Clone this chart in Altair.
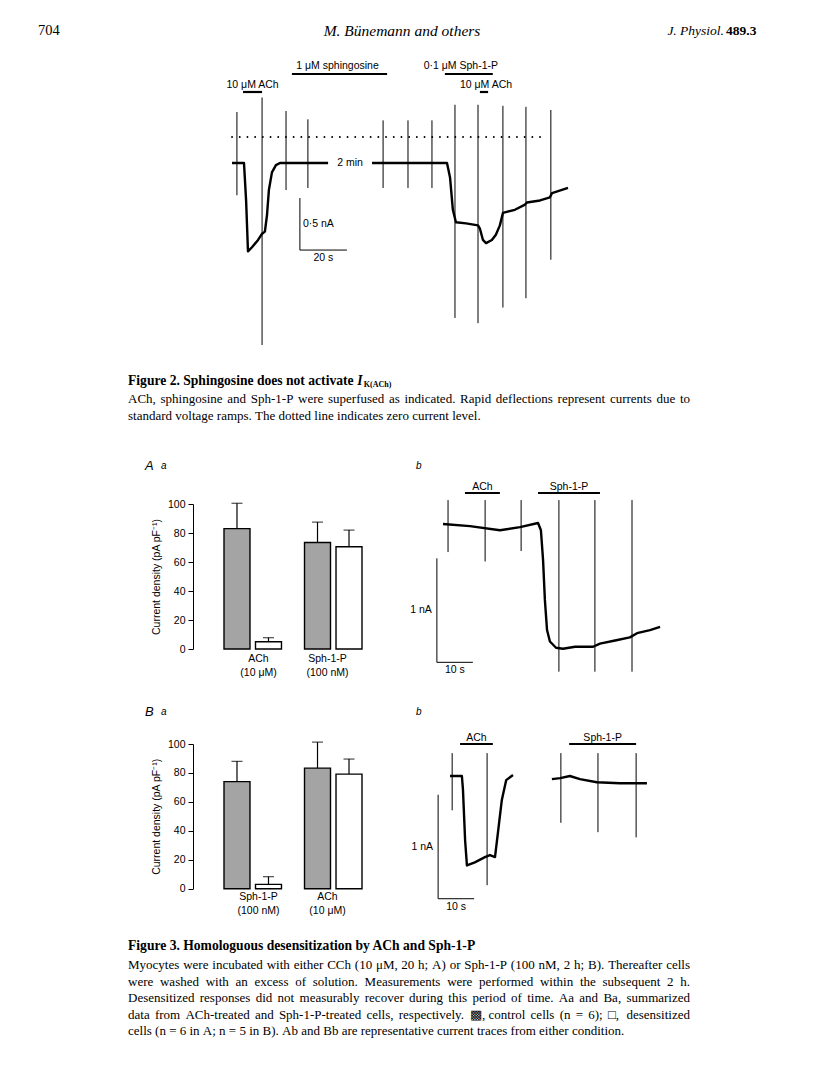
import altair as alt
import pandas as pd

# ---------------- data ----------------
# Figure 2: whole-cell current trace (time s, current nA); two segments separated by a 2 min break
f2_left_t = [0, 5.1, 6.0, 6.8, 8.5, 11.1, 12.8, 14.0, 14.9, 15.7, 17.0, 18.7, 20.4, 40.9]
f2_left_i = [-0.25, -0.25, -0.61, -1.10, -1.06, -0.99, -0.93, -0.91, -0.75, -0.51, -0.34, -0.27, -0.25, -0.25]
f2_right_t = [59.6, 91.5, 92.8, 94.0, 95.3, 99.6, 104.7, 105.5, 106.8, 108.1, 110.6, 112.3, 114.0, 115.3,
              120.4, 124.7, 125.5, 131.1, 135.3, 136.2, 143.0]
f2_right_i = [-0.25, -0.25, -0.39, -0.70, -0.82, -0.83, -0.85, -0.88, -0.99, -1.02, -0.99, -0.94, -0.85, -0.73,
              -0.70, -0.65, -0.63, -0.61, -0.58, -0.54, -0.49]
f2_ramp_t = [2.1, 12.8, 23.0, 32.3, 64.3, 74.9, 85.1, 94.9, 104.7, 115.3, 125.1, 135.7]
f2_ramp_top = [0.24, 0.38, 0.25, 0.17, 0.16, 0.16, 0.16, 0.31, 0.31, 0.30, 0.29, 0.26]
f2_ramp_bot = [-0.56, -2.0, -0.51, -0.49, -0.49, -0.49, -0.49, -1.74, -1.79, -1.64, -1.55, -1.18]
f2_zero_span = [0, 133]
f2_drug_name = ["10 μM ACh", "1 μM sphingosine", "0·1 μM Sph-1-P", "10 μM ACh"]
f2_drug_on = [4.7, 25.5, 90.6, 105.5]
f2_drug_off = [12.8, 66.0, 111.0, 109.0]
f2_sb_t = [28.9, 48.9]      # 20 s
f2_sb_i = [-1.087, -0.587]  # 0.5 nA

# Figure 3 Aa / Ba: current density (pA/pF), mean and s.e.m.
bar_panel = ["A", "A", "A", "A", "B", "B", "B", "B"]
bar_group = ["ACh", "ACh", "Sph-1-P", "Sph-1-P", "Sph-1-P", "Sph-1-P", "ACh", "ACh"]
bar_cond = ["control", "desensitized"] * 4
bar_mean = [83.0, 5.0, 73.5, 70.5, 74.0, 3.0, 83.3, 79.2]
bar_sem = [17.5, 2.8, 14.0, 11.5, 14.0, 5.3, 18.0, 10.4]
grp_name = ["ACh", "Sph-1-P"]
grp_conc = ["(10 μM)", "(100 nM)"]

# Figure 3 Ab trace
ab_t = [0, 7.5, 15.8, 21.4, 26.4, 27.2, 27.8, 28.3, 28.9, 29.7, 31.4, 33.3, 36.7, 41.7, 43.6, 47.8, 51.9,
        53.9, 57.5, 60.3]
ab_i = [0, -0.02, -0.06, -0.03, 0.01, -0.06, -0.35, -0.73, -1.02, -1.13, -1.19, -1.20, -1.18, -1.18, -1.15,
        -1.12, -1.09, -1.05, -1.02, -0.99]
ab_ramp_t = [1.4, 11.7, 21.7, 32.2, 42.2, 52.5]
ab_ramp_top = [0.23, 0.23, 0.23, 0.23, 0.23, 0.23]
ab_ramp_bot = [-0.27, -0.36, -0.26, -1.42, -1.42, -1.42]
ab_drug_name = ["ACh", "Sph-1-P"]
ab_drug_on = [6.1, 26.4]
ab_drug_off = [15.8, 43.6]
ab_sb_t = [-1.7, 8.3]
ab_sb_i = [-1.33, -0.33]

# Figure 3 Bb trace (two segments)
bb_left_t = [0, 3.3, 3.6, 4.2, 4.7, 6.9, 9.7, 11.1, 12.5, 13.3, 14.4, 15.6, 17.5]
bb_left_i = [0, 0, -0.13, -0.62, -0.86, -0.83, -0.78, -0.76, -0.78, -0.55, -0.23, -0.04, 0.01]
bb_right_t = [28.3, 30.6, 33.3, 36.1, 40.8, 47.2, 54.7]
bb_right_i = [-0.03, -0.02, 0.0, -0.03, -0.06, -0.07, -0.07]
bb_ramp_t = [0.6, 10.3, 30.8, 41.1, 51.7]
bb_ramp_top = [0.22, 0.22, 0.22, 0.22, 0.22]
bb_ramp_bot = [-0.33, -1.05, -0.45, -0.54, -0.59]
bb_drug_name = ["ACh", "Sph-1-P"]
bb_drug_on = [2.8, 33.1]
bb_drug_off = [11.9, 51.7]
bb_sb_t = [-3.3, 6.7]
bb_sb_i = [-1.18, -0.18]

# Page text
header = ["704", "M. Bünemann and others", "J. Physiol.", "489.3"]
fig2_title = "Figure 2. Sphingosine does not activate "
fig2_lines = [
    "ACh, sphingosine and Sph-1-P were superfused as indicated. Rapid deflections represent currents due to",
    "standard voltage ramps. The dotted line indicates zero current level.",
]
fig3_title = "Figure 3. Homologuous desensitization by ACh and Sph-1-P"
fig3_lines = [
    "Myocytes were incubated with either CCh (10 μM, 20 h; A) or Sph-1-P (100 nM, 2 h; B). Thereafter cells",
    "were washed with an excess of solution. Measurements were performed within the subsequent 2 h.",
    "Desensitized responses did not measurably recover during this period of time. Aa and Ba, summarized",
    "data from ACh-treated and Sph-1-P-treated cells, respectively. ▩, control cells (n = 6); □, desensitized",
    "cells (n = 6 in A; n = 5 in B). Ab and Bb are representative current traces from either condition.",
]

# ---------------- helpers ----------------
OFF = 8
SANS = "Liberation Sans"
SERIF = "Liberation Serif"
CAP = 13.0      # caption body font size
TITLE = 13.6    # caption title font size
LEFT, RIGHT = 128, 690

# Times / Liberation Serif advance widths (1/1000 em)
_W = {" ": 250, "!": 333, "(": 333, ")": 333, ",": 250, "-": 333, ".": 250, "/": 278, ":": 278, ";": 278,
      "=": 564, "μ": 500, "▩": 770, "□": 770, "·": 250}
for ch in "0123456789":
    _W[ch] = 500
for ch, w in zip("ABCDEFGHIJKLMNOPQRSTUVWXYZ",
                 [722, 667, 667, 722, 611, 556, 722, 722, 333, 389, 722, 611, 889, 722, 722, 556, 722, 667, 556,
                  611, 722, 722, 944, 722, 722, 611]):
    _W[ch] = w
for ch, w in zip("abcdefghijklmnopqrstuvwxyz",
                 [444, 500, 444, 500, 444, 333, 500, 500, 278, 278, 500, 278, 778, 500, 500, 500, 500, 333, 389,
                  278, 500, 500, 722, 500, 500, 444]):
    _W[ch] = w
_WB = dict(_W)
for ch, w in zip("abcdefghijklmnopqrstuvwxyz",
                 [500, 556, 444, 556, 444, 333, 500, 556, 278, 333, 556, 278, 833, 556, 500, 556, 556, 444, 389,
                  333, 556, 500, 722, 500, 500, 444]):
    _WB[ch] = w
for ch, w in zip("ABCDEFGHIJKLMNOPQRSTUVWXYZ",
                 [722, 667, 722, 722, 667, 611, 778, 778, 389, 500, 778, 667, 944, 722, 778, 611, 778, 722, 556,
                  667, 722, 722, 1000, 722, 722, 667]):
    _WB[ch] = w


def text_width(s, size, bold=False):
    tab = _WB if bold else _W
    return sum(tab.get(c, 500) for c in s) * size / 1000.0


def px(v):
    return v - OFF


def lin(domain, lo, hi):
    return alt.Scale(domain=domain, range=[px(lo), px(hi)], nice=False, zero=False)


def label(text, x, y, size=10.0, font=SANS, align="left", weight="normal", style="normal"):
    return alt.Chart(pd.DataFrame({"s": [text]})).mark_text(
        align=align, baseline="middle", font=font, fontSize=size, fontWeight=weight,
        fontStyle=style, color="black"
    ).encode(x=alt.value(px(x)), y=alt.value(px(y)), text="s:N")


def paragraph(lines, left, right, y0, dy, size):
    rows = []
    for k, line in enumerate(lines):
        words = line.split(" ")
        widths = [text_width(w, size) for w in words]
        last = k == len(lines) - 1
        if not last and len(words) > 1:
            space = (right - left - sum(widths)) / (len(words) - 1)
        else:
            space = text_width(" ", size)
        x = left
        for w, ww in zip(words, widths):
            rows.append({"w": w, "x": px(x), "y": px(y0 + dy * k)})
            x += ww + space
    return alt.Chart(pd.DataFrame(rows)).mark_text(
        align="left", baseline="middle", font=SERIF, fontSize=size, color="black").encode(
        x=alt.X("x:Q", scale=None), y=alt.Y("y:Q", scale=None), text="w:N")


def trace_layers(segs, ramps, drugs, sb, xs, ys, drug_lab_y, drug_bar_y, drug_dx, sb_labels, lw=2.0):
    out = []
    seg_rows = []
    for k, (tt, ii) in enumerate(segs):
        for a, b in zip(tt, ii):
            seg_rows.append({"t": a, "i": b, "seg": k})
    out.append(alt.Chart(pd.DataFrame(seg_rows)).mark_line(color="black", strokeWidth=lw, strokeJoin="round").encode(
        x=alt.X("t:Q", scale=xs, axis=None), y=alt.Y("i:Q", scale=ys, axis=None), detail="seg:N"))
    rt, rtop, rbot = ramps
    out.append(alt.Chart(pd.DataFrame({"t": rt, "top": rtop, "bot": rbot})).mark_rule(
        color="black", strokeWidth=1.0).encode(
        x=alt.X("t:Q", scale=xs, axis=None), y=alt.Y("top:Q", scale=ys, axis=None), y2="bot:Q"))
    names, on, off = drugs
    for k in range(len(names)):
        d = pd.DataFrame({"name": [names[k]], "on": [on[k]], "off": [off[k]]})
        out.append(alt.Chart(d).mark_rule(color="black", strokeWidth=2.2).encode(
            x=alt.X("on:Q", scale=xs, axis=None), x2="off:Q", y=alt.value(px(drug_bar_y[k]))))
        out.append(alt.Chart(d).transform_calculate(mid="(datum.on + datum.off) / 2").mark_text(
            font=SANS, fontSize=10.5, color="black", baseline="middle", dx=drug_dx[k]).encode(
            x=alt.X("mid:Q", scale=xs, axis=None), y=alt.value(px(drug_lab_y[k])), text="name:N"))
    st, si = sb
    sbd = pd.DataFrame({"t0": [st[0]], "t1": [st[1]], "i0": [si[0]], "i1": [si[1]]})
    out.append(alt.Chart(sbd).mark_rule(color="black", strokeWidth=1.0).encode(
        x=alt.X("t0:Q", scale=xs, axis=None), y=alt.Y("i0:Q", scale=ys, axis=None), y2="i1:Q"))
    out.append(alt.Chart(sbd).mark_rule(color="black", strokeWidth=1.0).encode(
        x=alt.X("t0:Q", scale=xs, axis=None), x2="t1:Q", y=alt.Y("i0:Q", scale=ys, axis=None)))
    (vtxt, vdx, vdy, valign), (htxt, hdy) = sb_labels
    out.append(alt.Chart(sbd).transform_calculate(im="(datum.i0 + datum.i1) / 2").mark_text(
        font=SANS, fontSize=10.5, color="black", align=valign, baseline="middle", dx=vdx, dy=vdy).encode(
        x=alt.X("t0:Q", scale=xs, axis=None), y=alt.Y("im:Q", scale=ys, axis=None), text=alt.value(vtxt)))
    out.append(alt.Chart(sbd).transform_calculate(tm="(datum.t0 + datum.t1) / 2").mark_text(
        font=SANS, fontSize=10.5, color="black", align="center", baseline="middle", dy=hdy).encode(
        x=alt.X("tm:Q", scale=xs, axis=None), y=alt.Y("i0:Q", scale=ys, axis=None), text=alt.value(htxt)))
    return out


bars_df = pd.DataFrame({"panel": bar_panel, "group": bar_group, "cond": bar_cond,
                        "mean": bar_mean, "sem": bar_sem})
bars_df["upper"] = bars_df["mean"] + bars_df["sem"]


def bar_layers(panel, order, y0, y100, lab_y):
    d = bars_df[bars_df.panel == panel]
    xs = alt.Scale(domain=order, range=[px(224), px(362)], paddingInner=0.286, paddingOuter=0)
    xo = alt.Scale(domain=["control", "desensitized"], paddingInner=0.175, paddingOuter=0)
    ys = alt.Scale(domain=[0, 100], range=[px(y0), px(y100)], nice=False, zero=False)
    base = alt.Chart(d).encode(x=alt.X("group:N", scale=xs, axis=None),
                               xOffset=alt.XOffset("cond:N", scale=xo))
    axis = alt.Axis(orient="left", offset=-px(193), values=[0, 20, 40, 60, 80, 100], tickSize=5,
                    tickColor="black", tickWidth=1, domainColor="black", domainWidth=1, grid=False,
                    labelFont=SANS, labelFontSize=10.5, labelColor="black", labelPadding=3,
                    title="Current density (pA pF⁻¹)", titleFont=SANS, titleFontSize=10.5,
                    titleFontWeight="normal", titleColor="black", titlePadding=6)
    bars = base.mark_bar(stroke="black", strokeWidth=1.4).encode(
        y=alt.Y("mean:Q", scale=ys, axis=axis),
        color=alt.Color("cond:N", scale=alt.Scale(domain=["control", "desensitized"],
                                                  range=["#a4a4a4", "#ffffff"]), legend=None))
    stems = base.mark_bar(width=1.2, color="black").encode(
        y=alt.Y("mean:Q", scale=ys, axis=None), y2="upper:Q")
    caps = base.mark_tick(size=11, thickness=1.2, color="black").encode(
        y=alt.Y("upper:Q", scale=ys, axis=None))
    gl = pd.DataFrame({"group": grp_name, "conc": grp_conc})
    t1 = alt.Chart(gl).mark_text(font=SANS, fontSize=10.5, color="black", baseline="middle").encode(
        x=alt.X("group:N", scale=xs, axis=None), y=alt.value(px(lab_y)), text="group:N")
    t2 = alt.Chart(gl).mark_text(font=SANS, fontSize=10.5, color="black", baseline="middle").encode(
        x=alt.X("group:N", scale=xs, axis=None), y=alt.value(px(lab_y + 14)), text="conc:N")
    return [bars, stems, caps, t1, t2]


layers = []

# header
layers.append(label(header[0], 38, 31, 14.5, SERIF))
layers.append(label(header[1], 402, 31, 15.5, SERIF, align="center", style="italic"))
layers.append(label(header[2], 724, 31, 13.5, SERIF, align="right", style="italic"))
layers.append(label(header[3], 726, 31, 13.5, SERIF, weight="bold"))

# Figure 2 trace
f2x = lin([0, 143], 232, 568)
f2y = lin([-2.5, 0.5], 397, 85)
layers += trace_layers(
    [(f2_left_t, f2_left_i), (f2_right_t, f2_right_i)],
    (f2_ramp_t, f2_ramp_top, f2_ramp_bot),
    (f2_drug_name, f2_drug_on, f2_drug_off),
    (f2_sb_t, f2_sb_i), f2x, f2y,
    drug_lab_y=[85, 66, 66, 85], drug_bar_y=[92, 74, 74, 92], drug_dx=[0, -2, -8, 2],
    sb_labels=(("0·5 nA", 3, 0, "left"), ("20 s", 8)), lw=2.4)
zero = pd.DataFrame({"a": [f2_zero_span[0]], "b": [f2_zero_span[1]], "z": [0.0]})
layers.append(alt.Chart(zero).mark_rule(color="black", strokeWidth=1.8, strokeDash=[0.1, 7.6],
                                         strokeCap="round").encode(
    x=alt.X("a:Q", scale=f2x, axis=None), x2="b:Q", y=alt.Y("z:Q", scale=f2y, axis=None)))
gap = pd.DataFrame({"t": [(f2_left_t[-1] + f2_right_t[0]) / 2], "i": [f2_left_i[-1]], "s": ["2 min"]})
layers.append(alt.Chart(gap).mark_text(font=SANS, fontSize=10.5, color="black", baseline="middle").encode(
    x=alt.X("t:Q", scale=f2x, axis=None), y=alt.Y("i:Q", scale=f2y, axis=None), text="s:N"))

# Figure 2 caption
tw = text_width(fig2_title, TITLE, bold=True)
layers.append(label(fig2_title, LEFT, 381, TITLE, SERIF, weight="bold"))
layers.append(label("I", LEFT + tw, 381, TITLE, SERIF, weight="bold", style="italic"))
layers.append(label("K(ACh)", LEFT + tw + 6.5, 384.5, 8, SERIF, weight="bold"))
layers.append(paragraph(fig2_lines, LEFT, RIGHT, 399, 16.5, CAP))

# Figure 3 panel letters
layers.append(label("A", 145, 466, 13, SANS, style="italic"))
layers.append(label("a", 161, 466, 10, SANS, style="italic"))
layers.append(label("b", 416, 466, 10, SANS, style="italic"))
layers.append(label("B", 145, 712, 13, SANS, style="italic"))
layers.append(label("a", 161, 712, 10, SANS, style="italic"))
layers.append(label("b", 416, 712, 10, SANS, style="italic"))

# Figure 3 bar panels
layers += bar_layers("A", ["ACh", "Sph-1-P"], 649, 504, 659)
layers += bar_layers("B", ["Sph-1-P", "ACh"], 888.7, 744, 897)

# Figure 3 Ab
abx = lin([0, 60], 443, 659)
aby = lin([-2, 0.5], 732, 472)
layers += trace_layers(
    [(ab_t, ab_i)], (ab_ramp_t, ab_ramp_top, ab_ramp_bot), (ab_drug_name, ab_drug_on, ab_drug_off),
    (ab_sb_t, ab_sb_i), abx, aby, drug_lab_y=[487, 487], drug_bar_y=[493, 493], drug_dx=[0, 0],
    sb_labels=(("1 nA", -5, 0, "right"), ("10 s", 8)), lw=2.4)

# Figure 3 Bb
bbx = lin([0, 60], 450, 666)
bby = lin([-2, 0.5], 984, 724)
layers += trace_layers(
    [(bb_left_t, bb_left_i), (bb_right_t, bb_right_i)], (bb_ramp_t, bb_ramp_top, bb_ramp_bot),
    (bb_drug_name, bb_drug_on, bb_drug_off), (bb_sb_t, bb_sb_i), bbx, bby,
    drug_lab_y=[738, 738], drug_bar_y=[744, 744], drug_dx=[0, 0],
    sb_labels=(("1 nA", -5, 0, "right"), ("10 s", 8)), lw=2.4)

# Figure 3 caption
layers.append(label(fig3_title, LEFT, 946, TITLE, SERIF, weight="bold"))
layers.append(paragraph(fig3_lines, LEFT, RIGHT, 965, 16.5, CAP))

chart = alt.layer(*layers).resolve_scale(
    x="independent", y="independent", xOffset="independent", color="independent"
).properties(width=800, height=1072, autosize=alt.AutoSizeParams(type="none"), padding=0
             ).configure_view(stroke=None)

chart.save("out.html", embed_options={"renderer": "svg", "actions": False})
